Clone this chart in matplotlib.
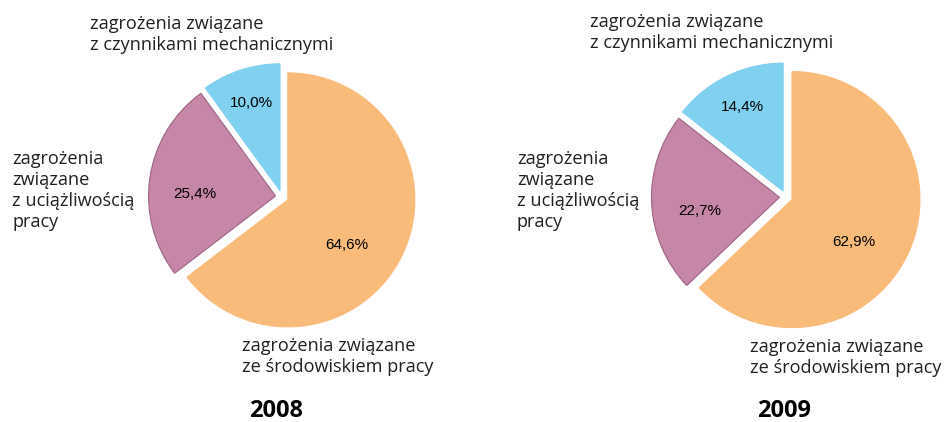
import numpy as np
import matplotlib.pyplot as plt

# data
years = ["2008", "2009"]
shares_2008 = [64.6, 25.4, 10.0]   # środowisko, uciążliwość, mechaniczne
shares_2009 = [62.9, 22.7, 14.4]
cat_labels = [
    "zagrożenia związane\nze środowiskiem pracy",
    "zagrożenia\nzwiązane\nz uciążliwością\npracy",
    "zagrożenia związane\nz czynnikami mechanicznymi",
]
colors = ["#F9BB79", "#C686A7", "#80D0EF"]
edge_cols = ["#F9BB79", "#9E6584", "#80D0EF"]

W, H = 947, 422
TXT = "#231F20"
LAB_FONT = ["Open Sans", "DejaVu Sans"]

fig = plt.figure(figsize=(W / 100, H / 100), dpi=100)
ax = fig.add_axes([0, 0, 1, 1])


def fmt(p):
    return f"{p:.1f}%".replace(".", ",")


def draw_pie(vals, cx, cy, r):
    # explode is in data units here (axes are in pixels)
    wedges, _ = ax.pie(vals, colors=colors, startangle=90, counterclock=False,
                       center=(cx, H - cy), radius=r, explode=[6.5] * 3,
                       wedgeprops=dict(linewidth=0.8), frame=True)
    # label distance (fraction of r) and small angle nudge per slice
    dists = [0.585, 0.635, 0.73]
    nudge = [-11, 7, 0]
    for w, v, d, a, ec in zip(wedges, vals, dists, nudge, edge_cols):
        w.set_edgecolor(ec)
        mid = np.deg2rad((w.theta1 + w.theta2) / 2 + a)
        x0, y0 = w.center
        ax.text(x0 + d * r * np.cos(mid), y0 + d * r * np.sin(mid), fmt(v),
                ha="center", va="center", fontsize=11,
                family="Liberation Sans", color="black")


def label(x, y, s):
    # y = baseline of last line, in image pixels from top
    ax.text(x, H - y, s, ha="left", va="baseline", fontsize=13.1,
            family=LAB_FONT, color=TXT, linespacing=1.22)


def year(x, s):
    ax.text(x, H - 411, s, ha="center", va="center", fontsize=17,
            fontweight="bold", family=LAB_FONT, color="black")


# 2008
draw_pie(shares_2008, 282, 197, 127)
label(90, 50, cat_labels[2])
label(12, 227, cat_labels[1])
label(242, 372, cat_labels[0])
year(276, years[0])

# 2009
draw_pie(shares_2009, 786, 197, 128)
label(590, 48, cat_labels[2])
label(517, 227, cat_labels[1])
label(750, 373, cat_labels[0])
year(784, years[1])

ax.set_xlim(0, W)
ax.set_ylim(0, H)
ax.set_aspect("equal")
ax.axis("off")

fig.savefig("out.png", dpi=100)
